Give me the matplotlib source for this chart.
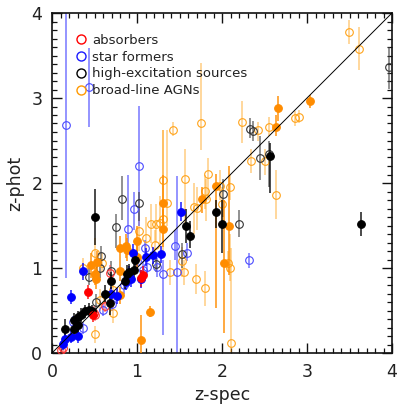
import matplotlib
matplotlib.use("Agg")
import matplotlib.pyplot as plt
from matplotlib.lines import Line2D
from matplotlib.ticker import MultipleLocator
import numpy as np

# ---------------- data: (z_spec, z_phot, low end, high end) ----------------
# absorbers (red)
abs_f_x = [0.42, 0.48, 1.05, 1.07]
abs_f_y = [0.72, 0.45, 0.88, 0.92]
abs_f_lo = [0.64, 0.37, 0.78, 0.85]
abs_f_hi = [0.80, 0.53, 0.98, 1.02]
abs_o_x = [0.11, 0.13, 0.49, 0.51, 0.68, 0.62]
abs_o_y = [0.04, 0.06, 0.47, 0.45, 0.94, 0.55]
abs_o_lo = [0.00, 0.00, 0.40, 0.38, 0.85, 0.48]
abs_o_hi = [0.10, 0.12, 0.55, 0.52, 1.03, 0.62]

# star formers (blue)
sf_f_x = [0.13, 0.15, 0.22, 0.30, 0.22, 0.37, 0.69, 0.77, 0.87, 0.93, 0.95, 0.90, 1.05, 1.11, 1.19, 1.28, 1.52]
sf_f_y = [0.11, 0.16, 0.19, 0.20, 0.66, 0.96, 0.69, 0.67, 0.83, 0.87, 1.18, 0.92, 0.87, 1.13, 1.15, 1.16, 1.66]
sf_f_lo = [0.04, 0.09, 0.12, 0.12, 0.58, 0.86, 0.60, 0.58, 0.74, 0.78, 1.08, 0.82, 0.77, 1.02, 1.05, 1.06, 1.55]
sf_f_hi = [0.18, 0.25, 0.28, 0.30, 0.74, 1.06, 0.78, 0.76, 0.95, 0.97, 1.28, 1.02, 0.98, 1.23, 1.25, 1.26, 1.78]
sf_o_x = [0.16, 0.44, 1.02, 0.96, 0.89, 1.45, 1.59, 1.47, 1.30, 1.23, 1.12, 1.07, 1.09, 1.00, 2.32, 0.60, 0.36, 0.25, 0.85, 0.70]
sf_o_y = [2.68, 3.13, 2.20, 1.69, 1.46, 1.26, 1.18, 0.95, 0.93, 1.01, 1.01, 0.98, 1.23, 1.08, 1.09, 0.51, 0.29, 0.37, 0.80, 0.58]
sf_o_lo = [0.88, 2.66, 1.50, 1.45, 1.20, 1.10, 1.08, 0.00, 0.21, 0.90, 0.92, 0.90, 1.15, 0.98, 1.00, 0.44, 0.22, 0.30, 0.70, 0.50]
sf_o_hi = [4.50, 3.59, 2.91, 1.90, 2.10, 1.45, 1.30, 2.08, 1.10, 1.12, 1.10, 1.08, 1.33, 1.18, 1.18, 0.58, 0.36, 0.44, 0.90, 0.66]

# high-excitation sources (black)
hx_f_x = [0.15, 0.26, 0.30, 0.26, 0.30, 0.34, 0.39, 0.43, 0.47, 0.51, 0.62, 0.68, 0.69, 0.86, 0.88, 0.90, 0.96, 0.98, 1.58, 1.62, 1.93, 2.00, 2.57, 3.63]
hx_f_y = [0.28, 0.28, 0.33, 0.39, 0.42, 0.45, 0.49, 0.51, 0.49, 1.60, 0.70, 0.59, 0.85, 0.85, 0.93, 0.95, 0.98, 1.09, 1.49, 1.38, 1.66, 1.52, 2.32, 1.52]
hx_f_lo = [0.18, 0.20, 0.25, 0.31, 0.34, 0.37, 0.41, 0.43, 0.41, 1.27, 0.60, 0.45, 0.75, 0.75, 0.83, 0.85, 0.88, 0.98, 1.30, 1.23, 1.47, 1.18, 1.88, 1.38]
hx_f_hi = [0.40, 0.36, 0.41, 0.47, 0.50, 0.53, 0.57, 0.59, 0.57, 1.93, 0.80, 0.72, 0.95, 0.95, 1.03, 1.05, 1.08, 1.20, 1.70, 1.55, 1.80, 1.80, 2.47, 1.66]
hx_o_x = [0.44, 0.56, 0.58, 0.69, 0.52, 0.75, 0.82, 1.02, 1.22, 1.53, 2.01, 2.20, 2.33, 2.36, 2.45, 2.55, 3.96]
hx_o_y = [0.90, 1.00, 1.14, 0.96, 0.60, 1.48, 1.81, 1.76, 1.05, 1.16, 1.87, 1.52, 2.64, 2.61, 2.30, 2.34, 3.36]
hx_o_lo = [0.80, 0.88, 1.02, 0.85, 0.50, 1.23, 1.56, 1.55, 0.95, 1.00, 1.60, 1.36, 2.53, 2.50, 2.04, 1.95, 3.11]
hx_o_hi = [1.00, 1.12, 1.26, 1.08, 0.70, 1.64, 2.08, 1.90, 1.15, 1.30, 2.05, 1.68, 2.76, 2.73, 2.55, 2.50, 3.60]

# broad-line AGNs (orange)
bl_f_x = [0.46, 0.53, 0.50, 0.52, 0.80, 0.80, 0.80, 0.87, 0.88, 1.00, 1.00, 1.05, 1.15, 1.30, 1.30, 1.76, 1.93, 2.02, 2.08, 2.64, 2.66, 3.04]
bl_f_y = [1.04, 1.07, 0.93, 0.87, 0.96, 0.68, 1.24, 1.26, 1.21, 1.32, 1.13, 0.15, 0.48, 1.76, 1.46, 1.81, 1.96, 1.06, 1.50, 2.66, 2.88, 2.96]
bl_f_lo = [0.88, 0.90, 0.80, 0.75, 0.85, 0.58, 1.10, 1.12, 1.08, 1.15, 0.98, 0.00, 0.42, 1.50, 1.25, 1.65, 0.53, 0.24, 0.92, 2.55, 2.73, 2.88]
bl_f_hi = [1.18, 1.20, 1.05, 1.00, 1.10, 0.78, 1.38, 1.40, 1.35, 1.50, 1.28, 0.45, 0.55, 2.10, 1.70, 1.95, 2.11, 1.80, 2.20, 2.80, 3.02, 3.03]
bl_o_x = [0.37, 0.50, 0.59, 0.72, 0.72, 0.56, 0.51, 1.02, 1.11, 1.17, 1.22, 1.27, 1.31, 1.35, 1.21, 1.39, 1.55, 1.53, 1.69, 1.80,
          1.30, 1.57, 1.42, 1.75, 1.67, 1.70, 1.81, 1.84, 1.80, 1.98, 2.09, 2.00, 2.07, 2.09, 2.10, 2.23, 2.34, 2.42, 2.51, 2.55,
          2.64, 2.86, 2.91, 3.49, 3.61]
bl_o_y = [1.00, 1.18, 1.06, 0.74, 0.47, 0.62, 0.22, 1.43, 1.35, 1.52, 1.52, 1.53, 1.58, 1.76, 1.27, 0.95, 0.95, 1.08, 0.87, 0.76,
          2.04, 2.05, 2.62, 2.70, 1.72, 1.71, 1.81, 2.11, 1.91, 1.97, 1.95, 1.75, 1.06, 1.00, 0.12, 2.72, 2.26, 2.62, 2.26, 2.66,
          1.86, 2.76, 2.78, 3.78, 3.58]
bl_o_lo = [0.88, 1.05, 0.95, 0.62, 0.35, 0.50, 0.12, 1.20, 1.10, 1.30, 1.30, 1.25, 1.20, 1.50, 1.10, 0.80, 0.80, 0.90, 0.70, 0.55,
           1.50, 1.50, 2.55, 2.39, 1.40, 1.45, 1.55, 1.80, 1.70, 1.80, 1.80, 1.50, 0.95, 0.85, 0.00, 2.47, 2.12, 2.50, 2.10, 2.55,
           1.58, 2.67, 2.70, 3.63, 3.33]
bl_o_hi = [1.12, 1.35, 1.18, 0.86, 0.60, 0.75, 0.32, 1.65, 1.60, 1.75, 1.75, 1.85, 2.62, 2.62, 1.45, 1.10, 1.10, 1.25, 1.05, 0.96,
           2.62, 2.40, 2.72, 3.41, 2.00, 1.95, 2.05, 2.30, 2.10, 2.15, 2.10, 1.95, 1.20, 1.40, 1.23, 2.96, 2.40, 2.72, 2.40, 2.78,
           2.15, 2.85, 2.86, 3.92, 3.83]

legend_labels = ["absorbers", "star formers", "high-excitation sources", "broad-line AGNs"]
legend_colors = ["#ff0000", "#1a1aff", "#000000", "#ff9900"]

# ---------------- figure ----------------
plt.rcParams['font.family'] = ['DejaVu Sans']
fig = plt.figure(figsize=(4.01, 4.11), dpi=100)
ax = fig.add_axes([52/401, 58/411, 340/401, 340/411])


def draw(x, y, lo, hi, color, ecolor, filled, ealpha):
    x = np.asarray(x); y = np.asarray(y)
    yerr = np.vstack([y - np.asarray(lo), np.asarray(hi) - y])
    ax.errorbar(x, y, yerr=yerr, fmt='none', ecolor=ecolor, elinewidth=1.1,
                alpha=ealpha, capsize=0, zorder=2 if not filled else 3)
    if filled:
        ax.plot(x, y, 'o', ms=5.5, mfc=color, mec=color, mew=0.8, ls='none', zorder=4)
    else:
        ax.plot(x, y, 'o', ms=5.5, mfc='none', mec=color, mew=0.8, ls='none', zorder=3)


draw(bl_o_x, bl_o_y, bl_o_lo, bl_o_hi, '#ffa31a', '#ffa31a', False, 0.55)
draw(sf_o_x, sf_o_y, sf_o_lo, sf_o_hi, '#4a4aff', '#4a4aff', False, 0.75)
draw(hx_o_x, hx_o_y, hx_o_lo, hx_o_hi, '#333333', '#444444', False, 0.75)
draw(abs_o_x, abs_o_y, abs_o_lo, abs_o_hi, '#ff3030', '#ff5050', False, 0.7)
draw(bl_f_x, bl_f_y, bl_f_lo, bl_f_hi, '#ff8c00', '#ff8c00', True, 0.95)
draw(sf_f_x, sf_f_y, sf_f_lo, sf_f_hi, '#0000ff', '#0000ff', True, 0.9)
draw(hx_f_x, hx_f_y, hx_f_lo, hx_f_hi, '#000000', '#000000', True, 0.9)
draw(abs_f_x, abs_f_y, abs_f_lo, abs_f_hi, '#ff0000', '#ff0000', True, 0.9)

# one-to-one line
ax.plot([0, 4], [0, 4], color='black', lw=0.7, zorder=5)

ax.set_xlim(0, 4)
ax.set_ylim(0, 4)
ax.xaxis.set_major_locator(MultipleLocator(1))
ax.yaxis.set_major_locator(MultipleLocator(1))
ax.xaxis.set_minor_locator(MultipleLocator(0.1))
ax.yaxis.set_minor_locator(MultipleLocator(0.1))
ax.tick_params(which='both', direction='in', top=True, right=True, color='#111111')
ax.tick_params(which='major', length=7, width=1.0, labelsize=12.5, pad=7, labelcolor='#222222')
ax.tick_params(which='minor', length=3.5, width=0.9)
for s in ax.spines.values():
    s.set_linewidth(1.2)
    s.set_color('#111111')

ax.set_xlabel("z-spec", fontsize=12.5, color='#222222', labelpad=4)
ax.set_ylabel("z-phot", fontsize=12.5, color='#222222', labelpad=5)

handles = [Line2D([], [], marker='o', ls='none', mfc='none', mec=c, mew=1.0, ms=6.5)
           for c in legend_colors]
leg = ax.legend(handles, legend_labels, loc='upper left', bbox_to_anchor=(0.05, 0.955),
                frameon=False, fontsize=9.5, handletextpad=0.35, labelspacing=0.3,
                borderaxespad=0, handlelength=1.0)
for t in leg.get_texts():
    t.set_color('#222222')

fig.savefig("out.png", dpi=100)
